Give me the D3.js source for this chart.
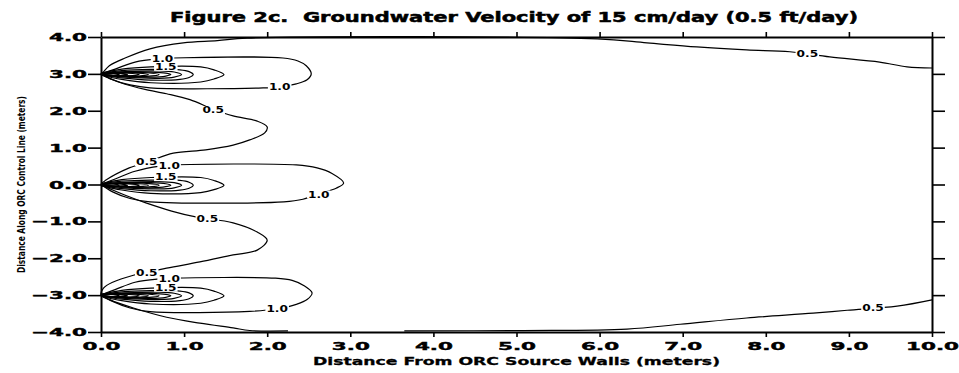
<!DOCTYPE html>
<html>
<head>
<meta charset="utf-8">
<script src="https://cdn.jsdelivr.net/npm/d3@7"></script>
<style>
  body { margin: 0; background: #fff; }
  svg { display: block; }
  text { font-family: "DejaVu Sans", sans-serif; font-weight: bold; fill: #000; }
</style>
</head>
<body>
<svg id="chart" width="959" height="373"></svg>
<script>
// axis ticks
const xTicks = [0, 1, 2, 3, 4, 5, 6, 7, 8, 9, 10];
const yTicks = [-4, -3, -2, -1, 0, 1, 2, 3, 4];

// source wall positions along the control line (meters)
const sources = [3, 0, -3];

// the 0.5 contour, one line wrapping all three sources (null = hidden under the boundary)
const contour05 = [
  [10.0, 3.16], [9.70, 3.19], [9.37, 3.32], [8.77, 3.46], [8.29, 3.60], [7.77, 3.65],
  [7.17, 3.73], [6.57, 3.84], [5.97, 3.95], [1.76, 3.97], [1.40, 3.90], [0.99, 3.84],
  [0.59, 3.68], [0.29, 3.43], [0.10, 3.22], [0.02, 3.03],
  [0.0, 3.0], [0.11, 2.87], [0.29, 2.72], [0.53, 2.58], [0.79, 2.46], [1.07, 2.30],
  [1.35, 2.04], [1.59, 1.86], [1.88, 1.72], [2.00, 1.56], [1.97, 1.40], [1.79, 1.21],
  [1.59, 1.07], [1.26, 0.94], [0.87, 0.85], [0.58, 0.63], [0.34, 0.45], [0.06, 0.12],
  [0.0, 0.0], [0.06, -0.07], [0.30, -0.30], [0.54, -0.50], [0.85, -0.72], [1.14, -0.88],
  [1.59, -1.04], [1.88, -1.29], [2.00, -1.51], [1.88, -1.78], [1.59, -1.91], [1.19, -2.10],
  [0.79, -2.27], [0.39, -2.46], [0.14, -2.65], [0.03, -2.81],
  [0.0, -3.0], [0.11, -3.13], [0.39, -3.35], [0.79, -3.60], [1.19, -3.76], [1.59, -3.89],
  [1.79, -3.96], [2.25, -3.97], null, [3.65, -3.97], [5.08, -3.96], [6.33, -3.92],
  [6.97, -3.79], [7.77, -3.62], [8.57, -3.49], [8.98, -3.41], [9.58, -3.30], [10.0, -3.13]
];

// the 1.0 contour loop around each source
const contour10Top = [
  [0.0, 3.0], [0.17, 3.13], [0.41, 3.32], [0.71, 3.41], [0.87, 3.43], [2.19, 3.43],
  [2.37, 3.35], [2.47, 3.22], [2.53, 3.0], [2.48, 2.84], [2.35, 2.73], [2.15, 2.65],
  [1.95, 2.62], [0.59, 2.62], [0.35, 2.70], [0.14, 2.84], [0.0, 3.0]
];
const contour10Mid = [
  [0.0, 0.0], [0.17, 0.15], [0.41, 0.36], [0.71, 0.50], [0.87, 0.53], [2.35, 0.53],
  [2.60, 0.45], [2.78, 0.30], [2.92, 0.04], [2.83, -0.10], [2.62, -0.25], [2.43, -0.40],
  [2.20, -0.47], [0.59, -0.47], [0.35, -0.38], [0.14, -0.20], [0.0, 0.0]
];
const contour10Bot = [
  [0.0, -3.0], [0.17, -2.85], [0.41, -2.65], [0.71, -2.56], [0.87, -2.54], [2.10, -2.54],
  [2.30, -2.60], [2.45, -2.75], [2.54, -2.94], [2.48, -3.12], [2.35, -3.25], [2.12, -3.37],
  [1.79, -3.44], [0.59, -3.45], [0.35, -3.35], [0.14, -3.17], [0.0, -3.0]
];

// inner contours (1.5 and up), [distance, offset from the source line]
const contour15 = [[0, 0.02], [0.25, 0.13], [0.6, 0.19], [1.2, 0.19], [1.36, 0.11], [1.48, -0.02],
  [1.36, -0.14], [1.2, -0.22], [0.6, -0.24], [0.25, -0.15], [0, -0.03]];
const contour20 = [[0, 0.02], [0.25, 0.09], [0.6, 0.12], [0.95, 0.11], [1.06, 0.06], [1.11, -0.02],
  [1.06, -0.10], [0.95, -0.15], [0.6, -0.17], [0.25, -0.11], [0, -0.03]];
const contour25 = [[0, 0.01], [0.3, 0.06], [0.7, 0.08], [0.88, 0.05], [0.97, -0.02], [0.88, -0.09],
  [0.7, -0.12], [0.3, -0.09], [0, -0.02]];
const contour30 = [[0, 0.01], [0.3, 0.05], [0.6, 0.05], [0.78, 0.02], [0.84, -0.02], [0.78, -0.06],
  [0.6, -0.09], [0.3, -0.07], [0, -0.02]];
const contour35 = [[0, 0.01], [0.25, 0.04], [0.55, 0.03], [0.70, -0.02], [0.55, -0.07], [0.25, -0.06], [0, -0.02]];
const contour40 = [[0, 0.01], [0.25, 0.03], [0.45, 0.02], [0.57, -0.02], [0.45, -0.06], [0.25, -0.05], [0, -0.02]];
const contour50 = [[0, 0.01], [0.2, 0.03], [0.38, 0.01], [0.46, -0.02], [0.38, -0.05], [0.2, -0.05], [0, -0.02]];
const contour60 = [[0, 0.01], [0.18, 0.02], [0.32, -0.02], [0.18, -0.05], [0, -0.02]];
const contour80 = [[0, 0.01], [0.12, 0.02], [0.22, -0.02], [0.12, -0.04], [0, -0.02]];

// contour labels
const contourLabels = [
  { t: '0.5', x: 1.35, y: 2.02 }, { t: '0.5', x: 8.50, y: 3.55 }, { t: '1.0', x: 2.15, y: 2.64 },
  { t: '1.0', x: 0.74, y: 3.42 }, { t: '1.5', x: 0.78, y: 3.19 },
  { t: '0.5', x: 0.55, y: 0.61 }, { t: '0.5', x: 1.28, y: -0.92 }, { t: '1.0', x: 2.62, y: -0.27 },
  { t: '1.0', x: 0.82, y: 0.52 }, { t: '1.5', x: 0.78, y: 0.20 },
  { t: '0.5', x: 0.55, y: -2.39 }, { t: '0.5', x: 9.29, y: -3.35 }, { t: '1.0', x: 2.12, y: -3.37 },
  { t: '1.0', x: 0.82, y: -2.55 }, { t: '1.5', x: 0.78, y: -2.80 }
];

const titleText = 'Figure 2c.  Groundwater Velocity of 15 cm/day (0.5 ft/day)';
const xTitle = 'Distance From ORC Source Walls (meters)';
const yTitle = 'Distance Along ORC Control Line (meters)';

const width = 959, height = 373;
const margin = { top: 37, right: 27, bottom: 41, left: 101 };

const svg = d3.select('#chart');

const x = d3.scaleLinear().domain([0, 10]).range([margin.left, width - margin.right]);
const y = d3.scaleLinear().domain([-4, 4]).range([height - margin.bottom, margin.top]);

function stretch(sel, k) {
  sel.each(function () {
    const w = this.getComputedTextLength();
    d3.select(this).attr('textLength', w * k).attr('lengthAdjust', 'spacingAndGlyphs');
  });
}

const line = d3.line()
  .defined((d) => d)
  .x((d) => x(d[0]))
  .y((d) => y(d[1]))
  .curve(d3.curveCatmullRom.alpha(0.5));

const plot = svg.append('g')
  .attr('fill', 'none')
  .attr('stroke', '#000')
  .attr('stroke-width', 1.2)
  .attr('stroke-linejoin', 'round');

plot.append('path').attr('d', line(contour05));

[contour10Top, contour10Mid, contour10Bot].forEach((c) => {
  plot.append('path').attr('d', line(c));
});

const inner = [contour15, contour20, contour25, contour30, contour35, contour40, contour50, contour60, contour80];
sources.forEach((s) => {
  inner.forEach((c) => {
    plot.append('path').attr('d', line(c.map((p) => [p[0], s + p[1]])));
  });
});

// labels with a white gap behind them
const lab = svg.append('g');
contourLabels.forEach((d) => {
  const g = lab.append('g').attr('transform', `translate(${x(d.x)},${y(d.y)})`);
  const bg = g.append('rect').attr('fill', '#fff');
  const t = g.append('text')
    .attr('text-anchor', 'middle')
    .attr('dy', '0.36em')
    .attr('font-size', 9)
    .text(d.t);
  stretch(t, 1.35);
  const w = +t.attr('textLength');
  bg.attr('x', -w / 2 - 1).attr('y', -4).attr('width', w + 2).attr('height', 8);
});

// axes
const fmt = d3.format('.1f');

const axisL = svg.append('g')
  .attr('transform', `translate(${margin.left},0)`)
  .call(d3.axisLeft(y).tickValues(yTicks).tickFormat(fmt).tickSize(13).tickSizeOuter(0).tickPadding(1));
const axisB = svg.append('g')
  .attr('transform', `translate(0,${height - margin.bottom})`)
  .call(d3.axisBottom(x).tickValues(xTicks).tickFormat(fmt).tickSize(5).tickSizeOuter(0).tickPadding(5));
const axisT = svg.append('g')
  .attr('transform', `translate(0,${margin.top})`)
  .call(d3.axisTop(x).tickValues(xTicks).tickFormat('').tickSize(5).tickSizeOuter(0));
const axisR = svg.append('g')
  .attr('transform', `translate(${width - margin.right},0)`)
  .call(d3.axisRight(y).tickValues(yTicks).tickFormat('').tickSize(13).tickSizeOuter(0));

[axisL, axisB, axisT, axisR].forEach((a) => {
  a.selectAll('.domain').attr('stroke', '#000').attr('stroke-width', 2);
  a.selectAll('.tick line').attr('stroke', '#000').attr('stroke-width', 1.6);
  a.selectAll('text')
    .attr('font-family', '"DejaVu Sans", sans-serif')
    .attr('font-weight', 'bold')
    .attr('font-size', 11)
    .attr('fill', '#000')
    .attr('stroke', '#000')
    .attr('stroke-width', 0.4);
});
stretch(axisL.selectAll('text'), 1.95);
stretch(axisB.selectAll('text'), 1.95);

// titles
svg.append('text')
  .attr('x', 514).attr('y', 22)
  .attr('text-anchor', 'middle')
  .attr('font-size', 14)
  .style('white-space', 'pre')
  .attr('stroke', '#000').attr('stroke-width', 0.5)
  .attr('textLength', 688).attr('lengthAdjust', 'spacingAndGlyphs')
  .text(titleText);

svg.append('text')
  .attr('x', (x(0) + x(10)) / 2).attr('y', 365)
  .attr('text-anchor', 'middle')
  .attr('font-size', 11)
  .attr('stroke', '#000').attr('stroke-width', 0.3)
  .attr('textLength', 407).attr('lengthAdjust', 'spacingAndGlyphs')
  .text(xTitle);

svg.append('text')
  .attr('transform', `translate(25,${(y(4) + y(-4)) / 2}) rotate(-90)`)
  .attr('text-anchor', 'middle')
  .attr('font-size', 11)
  .attr('textLength', 177).attr('lengthAdjust', 'spacingAndGlyphs')
  .text(yTitle);
</script>
</body>
</html>
